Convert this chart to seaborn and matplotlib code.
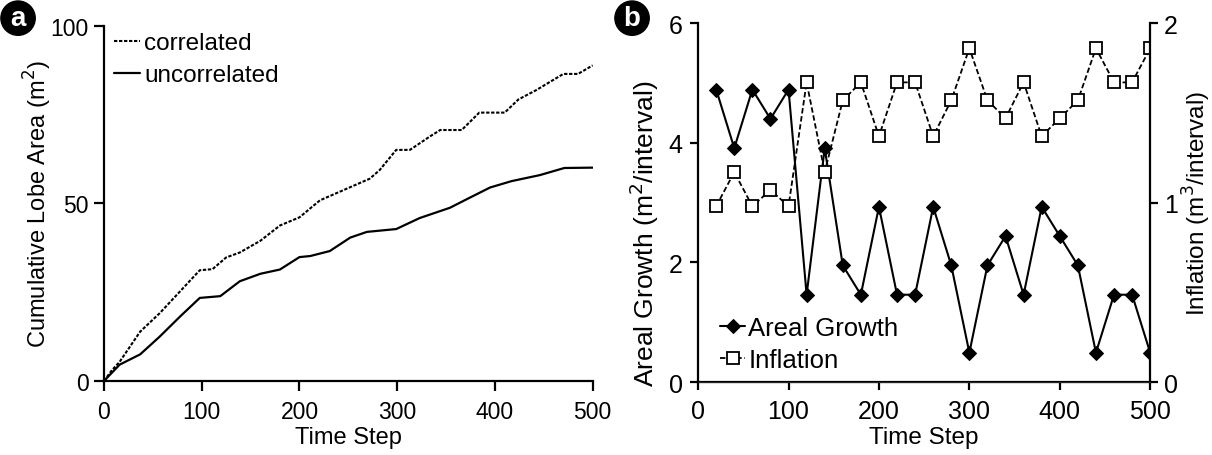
import numpy as np
import pandas as pd
import matplotlib
matplotlib.use("Agg")
import matplotlib.pyplot as plt
import seaborn as sns

# ---- data: panel a (cumulative lobe area) ----
t_corr = [0, 8, 16, 37, 57, 78, 98, 111, 125, 139, 160, 180, 200, 221, 252, 272,
          282, 299, 313, 333, 344, 366, 384, 410, 424, 442, 470, 485, 500]
v_corr = [0, 3.0, 5.4, 13.9, 19.1, 25.3, 31.2, 31.5, 34.8, 36.2, 39.5, 43.8, 46.1,
          50.9, 54.6, 57.0, 59.4, 65.1, 65.1, 68.8, 70.7, 70.7, 75.6, 75.6, 79.3,
          81.9, 86.5, 86.5, 88.9]
t_unc = [0, 16, 37, 57, 78, 98, 119, 139, 160, 180, 200, 211, 231, 252, 269, 299,
         323, 354, 374, 395, 417, 446, 471, 500]
v_unc = [0, 4.6, 7.5, 12.5, 18.2, 23.4, 23.9, 28.1, 30.2, 31.4, 34.9, 35.2, 36.6,
         40.4, 42.0, 42.8, 45.9, 48.8, 51.6, 54.5, 56.3, 58.0, 60.0, 60.1]

# ---- data: panel b ----
steps = [20, 40, 60, 80, 100, 120, 140, 160, 180, 200, 220, 240, 260, 280, 300,
         320, 340, 360, 380, 400, 420, 440, 460, 480, 500]
areal = [4.89, 3.91, 4.89, 4.40, 4.89, 1.46, 3.91, 1.95, 1.46, 2.93, 1.46, 1.46,
         2.93, 1.95, 0.49, 1.95, 2.44, 1.46, 2.93, 2.44, 1.95, 0.49, 1.46, 1.46, 0.49]
inflation = [0.98, 1.17, 0.98, 1.07, 0.98, 1.67, 1.17, 1.57, 1.67, 1.37, 1.67, 1.67,
             1.37, 1.57, 1.86, 1.57, 1.47, 1.67, 1.37, 1.47, 1.57, 1.86, 1.67, 1.67, 1.86]

sns.set_style("ticks")
plt.rcParams['font.family'] = ['Liberation Sans', 'DejaVu Sans']
plt.rcParams['text.color'] = 'black'
plt.rcParams['axes.labelcolor'] = 'black'
plt.rcParams['xtick.color'] = 'black'
plt.rcParams['ytick.color'] = 'black'

fig = plt.figure(figsize=(12.12, 4.56), dpi=100)
axa = fig.add_axes([0.0858, 0.1623, 0.4032, 0.7785])
axb = fig.add_axes([0.576, 0.160, 0.373, 0.787])

def style_axis(ax, fs, tl, xpad, ypad):
    for s in ['top', 'right']:
        ax.spines[s].set_visible(False)
    for s in ['left', 'bottom']:
        ax.spines[s].set_linewidth(1.6)
        ax.spines[s].set_color('black')
    ax.tick_params(direction='out', length=tl, width=1.6, labelsize=fs, colors='black')
    ax.tick_params(axis='x', pad=xpad)
    ax.tick_params(axis='y', pad=ypad)

# Panel a
sns.lineplot(x=t_corr, y=v_corr, ax=axa, color='black', lw=1.5, linestyle=(0, (1.6, 0.8)),
             label='correlated')
sns.lineplot(x=t_unc, y=v_unc, ax=axa, color='black', lw=1.6, label='uncorrelated')
axa.set_xlim(0, 500)
axa.set_ylim(0, 100)
axa.set_xticks([0, 100, 200, 300, 400, 500])
axa.set_yticks([0, 50, 100])
axa.set_xlabel('Time Step', fontsize=17)
axa.set_ylabel('Cumulative Lobe Area (m$^2$)', fontsize=17)
style_axis(axa, 16.5, 7, 7, 4)
axa.xaxis.set_label_coords(0.5, -0.128)
axa.yaxis.set_label_coords(-0.102, 0.5)
axa.legend(loc='upper left', frameon=False, fontsize=17.5, handlelength=1.1,
           handletextpad=0.15, borderaxespad=0.0, labelspacing=0.42,
           bbox_to_anchor=(0.0, 1.01))

# Panel b
sns.lineplot(x=steps, y=areal, ax=axb, color='black', lw=1.5, marker='D', markersize=7,
             markeredgecolor='black', markerfacecolor='black', label='Areal Growth', legend=False)
axb2 = axb.twinx()
sns.lineplot(x=steps, y=inflation, ax=axb2, color='black', lw=1.3, linestyle=(0, (3, 1.5)),
             marker='s', markersize=8, markerfacecolor='white', markeredgecolor='black',
             markeredgewidth=1.3, label='Inflation', legend=False)
axb.set_xlim(0, 500)
axb.set_ylim(0, 6)
axb2.set_ylim(0, 2)
axb.set_xticks([0, 100, 200, 300, 400, 500])
axb.set_yticks([0, 2, 4, 6])
axb2.set_yticks([0, 1, 2])
axb.set_xlabel('Time Step', fontsize=17.5)
axb.set_ylabel('Areal Growth (m$^2$/interval)', fontsize=19)
axb2.set_ylabel('Inflation (m$^3$/interval)', fontsize=17.5, labelpad=2)
style_axis(axb, 18, 6, 6, 5)
axb.xaxis.set_label_coords(0.5, -0.122)
axb.yaxis.set_label_coords(-0.082, 0.415)
for s in ['top', 'left']:
    axb2.spines[s].set_visible(False)
axb2.spines['right'].set_linewidth(1.6)
axb2.spines['right'].set_color('black')
axb2.tick_params(direction='out', length=6, width=1.6, labelsize=18, colors='black', pad=4)
axb.spines['right'].set_visible(False)

h1, l1 = axb.get_legend_handles_labels()
h2, l2 = axb2.get_legend_handles_labels()
axb2.legend(h1 + h2, l1 + l2, loc='lower left', frameon=False, fontsize=18.5,
            handlelength=1.0, handletextpad=0.12, borderaxespad=0.0, labelspacing=0.32,
            bbox_to_anchor=(0.025, 0.0))

# panel letters
for (cx, cy, letter) in [(0.0149, 0.958, 'a'), (0.5215, 0.958, 'b')]:
    fig.text(cx, cy, letter, ha='center', va='center', fontsize=20, color='white',
             fontweight='bold',
             bbox=dict(boxstyle='circle,pad=0.15', facecolor='black', edgecolor='black'))

fig.savefig('out.png', dpi=100)
